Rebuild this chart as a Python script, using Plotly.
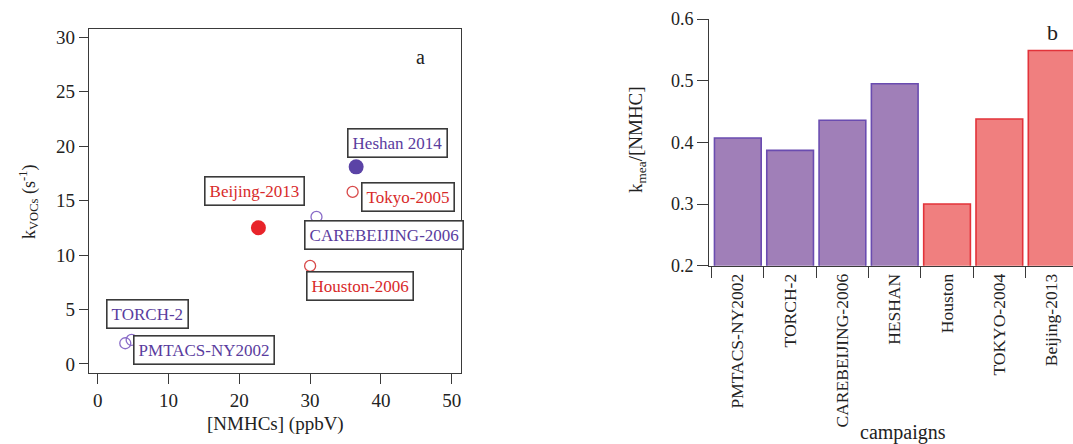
import plotly.graph_objects as go

# ---- panel a: OH reactivity vs NMHC concentration ----
sites = ["PMTACS-NY2002", "TORCH-2", "CAREBEIJING-2006", "Heshan 2014",
         "Houston-2006", "Tokyo-2005", "Beijing-2013"]
nmhc_ppbv = [4.8, 3.9, 30.9, 36.5, 30.0, 36.0, 22.7]
k_vocs = [2.2, 1.9, 13.5, 18.1, 9.0, 15.8, 12.5]
site_group = ["p", "p", "p", "p", "r", "r", "r"]
site_filled = [False, False, False, True, False, False, True]

# ---- panel b: k_mea / [NMHC] per campaign ----
campaigns = ["PMTACS-NY2002", "TORCH-2", "CAREBEIJING-2006", "HESHAN",
             "Houston", "TOKYO-2004", "Beijing-2013"]
ratio = [0.407, 0.387, 0.436, 0.495, 0.300, 0.438, 0.549]
camp_group = ["p", "p", "p", "p", "r", "r", "r"]

FONT = "Liberation Serif"
INK = "#222222"
FRAME = "#3a3a3a"
TEXT_COL = {"p": "#5a3c9e", "r": "#d82a2a"}
DOT_COL = {"p": "#5b43a6", "r": "#e8242a"}
RING_COL = {"p": "#8a6cc8", "r": "#d84a4a"}
BAR_FILL = {"p": "#a07fb8", "r": "#f07f7f"}
BAR_EDGE = {"p": "#6a4cb0", "r": "#e2333a"}

# label box offsets (px) from each point
label_shift = {
    "PMTACS-NY2002": (72, -10),
    "TORCH-2": (22, 29),
    "CAREBEIJING-2006": (68, -18),
    "Heshan 2014": (41, 24),
    "Houston-2006": (50, -20),
    "Tokyo-2005": (55, -5),
    "Beijing-2013": (-4, 37),
}

fig = go.Figure()

for name, x, y, g, filled in zip(sites, nmhc_ppbv, k_vocs, site_group, site_filled):
    if filled:
        marker = dict(symbol="circle", size=15, color=DOT_COL[g],
                      line=dict(width=0))
    else:
        marker = dict(symbol="circle-open", size=11, color=RING_COL[g],
                      line=dict(width=1.3, color=RING_COL[g]))
    fig.add_trace(go.Scatter(x=[x], y=[y], mode="markers", marker=marker,
                             xaxis="x", yaxis="y", showlegend=False,
                             cliponaxis=False, name=name))
    dx, dy = label_shift[name]
    fig.add_annotation(x=x, y=y, xref="x", yref="y", text=name,
                       showarrow=False, xshift=dx, yshift=dy,
                       font=dict(family=FONT, size=17, color=TEXT_COL[g]),
                       bgcolor="white", bordercolor=FRAME, borderwidth=1.6,
                       borderpad=4)

fig.add_trace(go.Bar(
    x=campaigns, y=ratio, base=0, xaxis="x2", yaxis="y2", showlegend=False,
    marker=dict(color=[BAR_FILL[g] for g in camp_group],
                line=dict(color=[BAR_EDGE[g] for g in camp_group], width=1.6)),
))

axis_common = dict(
    showgrid=False, zeroline=False, showline=True, linecolor=FRAME,
    linewidth=1.3, ticks="outside", tickcolor=FRAME, tickwidth=1.3,
    automargin=False,
)

fig.update_layout(
    width=1073, height=444,
    margin=dict(l=0, r=0, t=0, b=0, autoexpand=False),
    paper_bgcolor="white", plot_bgcolor="white",
    bargap=0.107,
    xaxis=dict(axis_common, domain=[0.0829, 0.4296], range=[-1.23, 51.3],
               tickvals=[0, 10, 20, 30, 40, 50], ticklen=10, mirror=True,
               tickfont=dict(family=FONT, color=INK, size=19), anchor="y"),
    yaxis=dict(axis_common, domain=[0.16, 0.9347], range=[-0.83, 30.76],
               tickvals=[0, 5, 10, 15, 20, 25, 30], ticklen=9, mirror=True,
               tickfont=dict(family=FONT, color=INK, size=19), anchor="x"),
    xaxis2=dict(axis_common, domain=[0.661, 1.0], range=[-0.546, 6.408],
                type="category", tickson="boundaries", ticklen=11,
                tickangle=-90,
                tickfont=dict(family=FONT, color=INK, size=17.5), anchor="y2"),
    yaxis2=dict(axis_common, domain=[0.4016, 0.957], range=[0.2, 0.6],
                tickvals=[0.2, 0.3, 0.4, 0.5, 0.6], tickformat=".1f",
                ticklen=11,
                tickfont=dict(family=FONT, color=INK, size=18), anchor="x2"),
)

# axis titles and panel letters
titles = [
    dict(text="[NMHCs] (ppbV)", x=275, y=424, size=19, angle=0),
    dict(text="k<sub>VOCs</sub> (s<sup>-1</sup>)", x=28, y=202, size=18, angle=-90),
    dict(text="campaigns", x=903, y=432, size=20, angle=0),
    dict(text="k<sub>mea</sub>/[NMHC]", x=637, y=140, size=19, angle=-90),
    dict(text="a", x=420, y=57, size=20, angle=0),
    dict(text="b", x=1052, y=32, size=22, angle=0),
]
for t in titles:
    fig.add_annotation(text=t["text"], x=t["x"] / 1073, y=1 - t["y"] / 444,
                       xref="paper", yref="paper", showarrow=False,
                       textangle=t["angle"], xanchor="center", yanchor="middle",
                       font=dict(family=FONT, size=t["size"], color=INK))

fig.write_html("out.html")
